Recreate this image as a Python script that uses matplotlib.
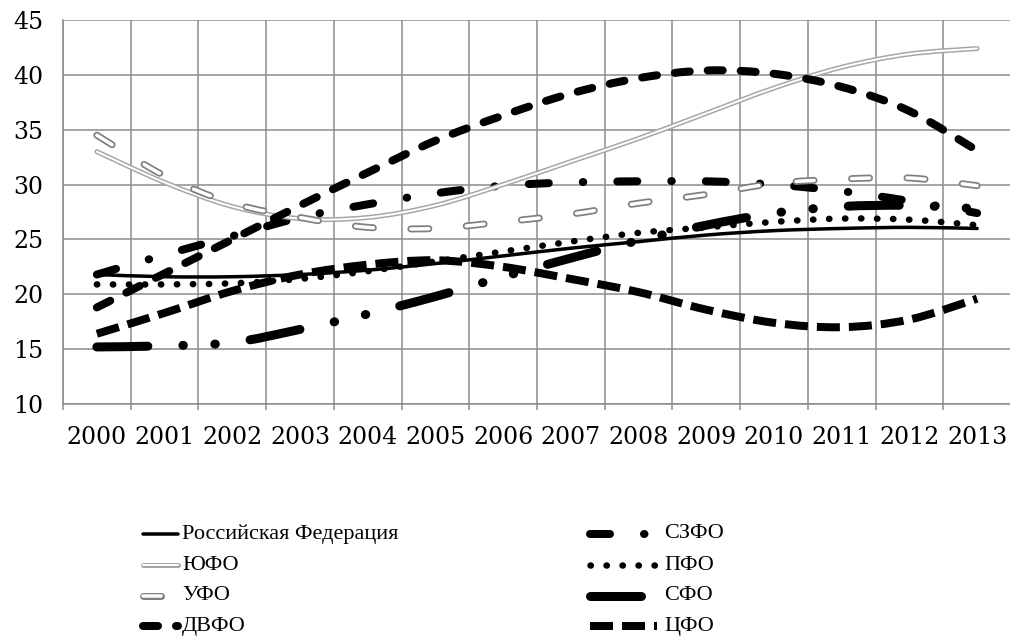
import numpy as np
import matplotlib
matplotlib.use("Agg")
import matplotlib.pyplot as plt
from matplotlib.path import Path
from matplotlib.patches import PathPatch
from matplotlib.lines import Line2D

plt.rcParams["lines.scale_dashes"] = False

years = ["2000", "2001", "2002", "2003", "2004", "2005", "2006",
         "2007", "2008", "2009", "2010", "2011", "2012", "2013"]

rf = [21.8, 21.6, 21.6, 21.8, 22.2, 22.8, 23.5, 24.2, 24.8, 25.4, 25.8, 26.0, 26.1, 26.0]
szfo = [21.8, 23.6, 25.3, 27.0, 28.2, 29.2, 29.9, 30.2, 30.3, 30.3, 30.0, 29.4, 28.5, 27.4]
yufo = [33.0, 30.2, 28.0, 26.9, 27.0, 28.1, 30.0, 32.1, 34.2, 36.5, 38.8, 40.7, 41.9, 42.4]
pfo = [20.9, 20.9, 21.0, 21.4, 22.1, 23.0, 23.9, 24.8, 25.6, 26.1, 26.6, 26.9, 26.8, 26.3]
ufo = [34.5, 30.8, 28.3, 27.0, 26.1, 26.0, 26.6, 27.3, 28.3, 29.1, 30.1, 30.5, 30.6, 29.9]
sfo = [15.2, 15.3, 15.6, 16.8, 18.2, 19.8, 21.6, 23.3, 24.9, 26.3, 27.4, 28.0, 28.1, 27.8]
dvfo = [18.8, 21.9, 25.0, 28.1, 31.1, 34.0, 36.3, 38.3, 39.7, 40.4, 40.1, 38.9, 36.7, 33.1]
cfo = [16.4, 18.3, 20.3, 21.8, 22.7, 23.1, 22.5, 21.4, 20.2, 18.6, 17.4, 17.0, 17.7, 19.6]

labels = ["Российская Федерация", "СЗФО", "ЮФО", "ПФО", "УФО", "СФО", "ДВФО", "ЦФО"]
series = [rf, szfo, yufo, pfo, ufo, sfo, dvfo, cfo]

PX = 0.72  # points per pixel at 100 dpi


def dash(*px):
    return (0, tuple(v * PX for v in px))


# every series is one or more strokes laid on top of each other
styles = [
    [dict(color="black", lw=3.5, ls="-", cap="round")],
    [dict(color="black", lw=8, ls=dash(20, 34, 0.5, 34), cap="round")],
    [dict(color="#a6a6a6", lw=5, ls="-", cap="round"),
     dict(color="white", lw=2, ls="-", cap="round")],
    [dict(color="black", lw=6.5, ls=dash(0.4, 15.6), cap="round")],
    [dict(color="#7f7f7f", lw=7, ls=dash(18, 37.5), cap="round"),
     dict(color="white", lw=3.5, ls=dash(18, 37.5), cap="round")],
    [dict(color="black", lw=9, ls=dash(51, 35, 0.5, 31.5, 0.5, 35), cap="round")],
    [dict(color="black", lw=8, ls=dash(15, 18), cap="round")],
    [dict(color="black", lw=8, ls=dash(23, 9), cap="butt")],
]


def smooth_path(vals):
    pts = np.column_stack([np.arange(len(vals)), vals]).astype(float)
    ext = np.vstack([pts[0], pts, pts[-1]])
    verts, codes = [pts[0]], [Path.MOVETO]
    for i in range(len(pts) - 1):
        p0, p1, p2, p3 = ext[i], ext[i + 1], ext[i + 2], ext[i + 3]
        verts += [p1 + (p2 - p0) / 6, p2 - (p3 - p1) / 6, p2]
        codes += [Path.CURVE4] * 3
    return Path(verts, codes)


W, H = 1010, 638
fig = plt.figure(figsize=(W / 100, H / 100), dpi=100)
ax = fig.add_axes([63 / W, (H - 404) / H, 948 / W, 384 / H])

grid_c = "#8c8c8c"
ax.set_xlim(-0.5, 13.5)
ax.set_ylim(10, 45)
ax.set_yticks(range(10, 50, 5))
ax.set_xticks(range(len(years)))
ax.set_xticklabels(years)
ax.set_xticks(np.arange(-0.5, 14, 1), minor=True)
ax.grid(which="major", axis="y", color=grid_c, lw=1.1)
ax.grid(which="minor", axis="x", color=grid_c, lw=1.1)
ax.set_axisbelow(True)
for s in ["top", "right"]:
    ax.spines[s].set_visible(False)
for s in ["left", "bottom"]:
    ax.spines[s].set_color(grid_c)
    ax.spines[s].set_linewidth(1.1)

ax.tick_params(axis="x", which="major", length=0, pad=16)
ax.tick_params(axis="x", which="minor", length=4.5, color=grid_c, width=1.1)
ax.tick_params(axis="y", length=0, pad=14)
for t in ax.get_xticklabels() + ax.get_yticklabels():
    t.set_fontfamily("DejaVu Serif")
    t.set_fontsize(17)

for vals, strokes in zip(series, styles):
    path = smooth_path(vals)
    for st in strokes:
        patch = PathPatch(path, fill=False, edgecolor=st["color"], lw=st["lw"] * PX,
                          linestyle=st["ls"], capstyle=st["cap"], joinstyle="round")
        ax.add_patch(patch)

# legend in two columns, read row by row
rows_y = [534, 565, 596, 626]
cols = [(143, 178, 182), (590, 657, 664)]
for k, (label, strokes) in enumerate(zip(labels, styles)):
    x0, x1, xt = cols[k % 2]
    yy = 1 - rows_y[k // 2] / H
    for st in strokes:
        ln = Line2D([x0 / W, x1 / W], [yy, yy], transform=fig.transFigure,
                    color=st["color"], lw=st["lw"] * PX, linestyle=st["ls"],
                    solid_capstyle=st["cap"], dash_capstyle=st["cap"])
        fig.add_artist(ln)
    fig.text(xt / W, yy, label, va="center", ha="left",
             family="Liberation Serif", size=16)

fig.savefig("out.png", dpi=100)
